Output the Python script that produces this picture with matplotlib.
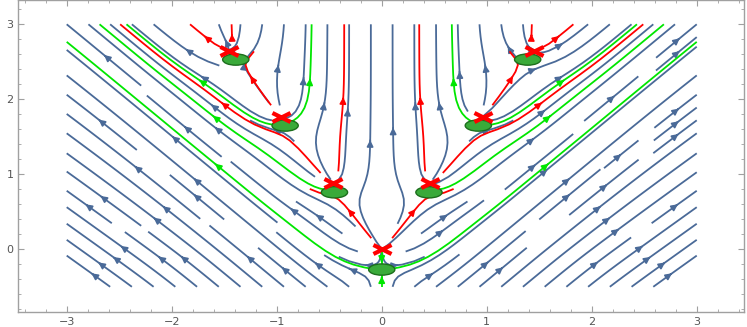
import numpy as np
import matplotlib
matplotlib.use("Agg")
import matplotlib.pyplot as plt
from matplotlib.ticker import MultipleLocator
from matplotlib.patches import Ellipse
from matplotlib.path import Path

# ---------------- data ----------------
# red crosses (sources of the flow)
x_cross = np.array([0.0, -0.46, 0.46, -0.96, 0.96, -1.45, 1.45])
y_cross = np.array([0.0, 0.88, 0.88, 1.77, 1.77, 2.65, 2.65])
# green ellipses (stagnation points)
x_ell = np.array([0.0, -0.45, 0.45, -0.92, 0.92, -1.39, 1.39])
y_ell = np.array([-0.27, 0.76, 0.76, 1.65, 1.65, 2.53, 2.53])

# highlighted red streamlines: start cross, direction (deg), length (axes units)
red_from = [0, 0, 1, 1, 2, 2, 3, 4, 5, 5, 6, 6]
red_angle = [128, 52, 140, 60, 40, 120, 125, 55, 160, 70, 20, 110]
red_len = [0.27, 0.27, 4, 4, 4, 4, 0.27, 0.27, 4, 4, 4, 4]
# highlighted green streamlines leaving each ellipse
green_from = [0, 0, 1, 2, 3, 3, 4, 4]
green_angle = [180, 0, 115, 65, 160, 60, 20, 120]

x_ticks = [-3, -2, -1, 0, 1, 2, 3]
y_ticks = [0, 1, 2, 3]

# ---------------- vector field ----------------
xg = np.linspace(-3, 3, 301)
yg = np.linspace(-0.5, 3.0, 176)
X, Y = np.meshgrid(xg, yg)

kB = np.mean(np.abs(x_cross[1:]) / y_cross[1:])
w = 0.12


def base(x, y):
    x = np.asarray(x, float)
    y = np.asarray(y, float)
    dist = np.abs(x) - kB * np.abs(y)
    sig = 0.5 * (1 + np.tanh(dist / w))
    F = 0.86 + 0.14 * 0.5 * (1 + np.tanh((dist - 1.9) / 0.4))
    return np.tanh(x / 0.05) * F * sig, np.ones_like(x + y)


U, V = base(X, Y)
# point sources at the crosses; strength from cross-to-ellipse distance
R = 0.5
eps = 0.03
for cx, cy, ex, ey in zip(x_cross, y_cross, x_ell, y_ell):
    bu, bv = base(cx, cy)
    d = np.hypot(cx - ex, cy - ey)
    q = d * np.hypot(bu, bv) / np.exp(-d ** 2 / R ** 2)
    dx = X - cx
    dy = Y - cy
    r2 = dx ** 2 + dy ** 2
    fac = q / (r2 + eps ** 2) * np.exp(-r2 / R ** 2)
    U = U + fac * dx
    V = V + fac * dy

# ---------------- figure ----------------
fig = plt.figure(figsize=(7.47, 3.27), dpi=100)
ax = fig.add_axes([18.3 / 747, 15.3 / 327, (744.3 - 18.3) / 747, 311.7 / 327])

blue = "#4a6a98"
red = "#ff0000"
green = "#00e600"


def sp(x0, y0, color, direction="both", maxlength=4.0, broken=True,
       density=1.0, minlength=0.1):
    kw = dict(color=color, linewidth=1.3, arrowsize=0.9, arrowstyle="-|>",
              density=density, integration_direction=direction,
              maxlength=maxlength, broken_streamlines=broken,
              minlength=minlength)
    if x0 is not None:
        kw["start_points"] = np.column_stack([x0, y0])
    try:
        return ax.streamplot(xg, yg, U, V, num_arrows=3, **kw)
    except TypeError:
        return ax.streamplot(xg, yg, U, V, **kw)


sp(None, None, blue, density=(1.0, 1.4))

# red highlighted lines
for i, a, L in zip(red_from, red_angle, red_len):
    sp([x_cross[i] + 0.05 * np.cos(np.radians(a))],
       [y_cross[i] + 0.05 * np.sin(np.radians(a))],
       red, direction="forward", broken=False, minlength=0.01, maxlength=L)

# green highlighted lines
gx = [x_ell[i] + 0.05 * np.cos(np.radians(a)) for i, a in zip(green_from, green_angle)]
gy = [y_ell[i] + 0.05 * np.sin(np.radians(a)) for i, a in zip(green_from, green_angle)]
sp(gx, gy, green, direction="forward", broken=False, minlength=0.01)
sp([x_ell[0]], [y_ell[0] - 0.03], green, direction="backward", broken=False,
   minlength=0.01)
sp([x_ell[0]], [y_ell[0] + 0.03], green, direction="backward", broken=False,
   minlength=0.01, maxlength=0.07)

# markers
for cx, cy in zip(x_ell, y_ell):
    ax.add_patch(Ellipse((cx, cy), 0.25, 0.15, facecolor="#3aaa3a",
                         edgecolor="#1c6e1c", linewidth=1.0, zorder=5))
xpath = Path([(-1, -0.5), (1, 0.5), (-1, 0.5), (1, -0.5)],
             [Path.MOVETO, Path.LINETO, Path.MOVETO, Path.LINETO])
ax.plot(x_cross, y_cross, linestyle="none", marker=xpath, markersize=13,
        markeredgewidth=3.0, color=red, zorder=6)

ax.set_xlim(-3.461, 3.453)
ax.set_ylim(-0.832, 3.324)
ax.set_xticks(x_ticks)
ax.set_yticks(y_ticks)
ax.xaxis.set_minor_locator(MultipleLocator(0.2))
ax.yaxis.set_minor_locator(MultipleLocator(0.2))
ax.tick_params(which="both", direction="in", top=True, right=True,
               color="#a0a0a0", labelcolor="#555555", labelsize=8)
ax.tick_params(which="major", length=4)
ax.tick_params(which="minor", length=2)
for sp_ in ax.spines.values():
    sp_.set_color("#a0a0a0")
    sp_.set_linewidth(1.0)

fig.savefig("out.png", dpi=100)
